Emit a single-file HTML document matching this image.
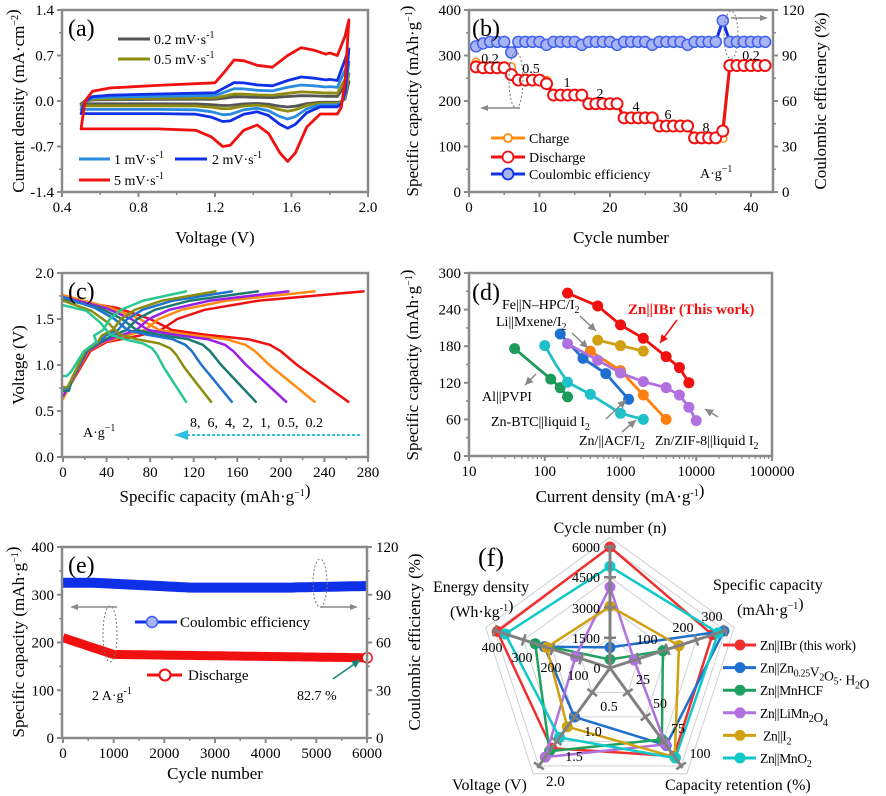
<!DOCTYPE html>
<html><head><meta charset="utf-8"><style>
html,body{margin:0;padding:0;background:#fff}
svg{display:block;font-family:"Liberation Serif",serif}
</style></head><body>
<svg id="s" width="886" height="796" viewBox="0 0 886 796" xmlns="http://www.w3.org/2000/svg"></svg>
<script>
const S=document.getElementById('s');const NS='http://www.w3.org/2000/svg';
function E(t,a,txt){const e=document.createElementNS(NS,t);for(const k in a)e.setAttribute(k,a[k]);if(txt!==undefined)e.innerHTML=txt;S.appendChild(e);return e;}
function PL(pts,c,w,extra){return E('polyline',Object.assign({points:pts.map(p=>p[0].toFixed(1)+','+p[1].toFixed(1)).join(' '),fill:'none',stroke:c,'stroke-width':w||2.5,'stroke-linejoin':'round','stroke-linecap':'round'},extra||{}));}
function T(x,y,s,txt,a){return E('text',Object.assign({x:x,y:y,'font-size':s},a||{}),txt);}
const AX='#8a8a8a';
function box(x0,y0,x1,y1){E('rect',{x:x0,y:y0,width:x1-x0,height:y1-y0,fill:'none',stroke:AX,'stroke-width':2.5});}
function xt(x0,x1,y,vals,minor){vals.forEach((v,i)=>{const x=x0+(x1-x0)*i/(vals.length-1);E('line',{x1:x,y1:y,x2:x,y2:y+5,stroke:AX,'stroke-width':2});T(x,y+20,15,v,{'text-anchor':'middle'});if(minor&&i<vals.length-1){const xm=x+(x1-x0)/(vals.length-1)/2;E('line',{x1:xm,y1:y,x2:xm,y2:y+3,stroke:AX,'stroke-width':1.5});}});}
function yt(x,y0,y1,vals,right){vals.forEach((v,i)=>{const y=y1-(y1-y0)*i/(vals.length-1);const d=right?5:-5;E('line',{x1:x,y1:y,x2:x+d,y2:y,stroke:AX,'stroke-width':2});T(right?x+9:x-8,y+5,15,v,{'text-anchor':right?'start':'end'});if(i<vals.length-1){const ym=y-(y1-y0)/(vals.length-1)/2;E('line',{x1:x,y1:ym,x2:x+d*0.6,y2:ym,stroke:AX,'stroke-width':1.5});}});}
function ytitle(x,y,txt){T(x,y,17,txt,{'text-anchor':'middle',transform:`rotate(-90 ${x} ${y})`});}
const sup=t=>`<tspan dy="-6" font-size="10">${t}</tspan><tspan dy="6"></tspan>`;
const sub=t=>`<tspan dy="4" font-size="10">${t}</tspan><tspan dy="-4"></tspan>`;
function arr(x1,y1,x2,y2,c){E('line',{x1:x1,y1:y1,x2:x2,y2:y2,stroke:c||'#888','stroke-width':1.5});const a=Math.atan2(y2-y1,x2-x1);const p=[[x2,y2],[x2-8*Math.cos(a)+4*Math.sin(a),y2-8*Math.sin(a)-4*Math.cos(a)],[x2-8*Math.cos(a)-4*Math.sin(a),y2-8*Math.sin(a)+4*Math.cos(a)]];E('polygon',{points:p.map(q=>q.join(',')).join(' '),fill:c||'#888'});}

// ===== (a) =====
(function(){
const X=v=>62+(v-0.4)*191.25, Y=i=>101-i*65;
const up=[[0.5,-0.43],[0.52,0],[0.56,0.15],[0.65,0.2],[0.9,0.24],[1.2,0.28],[1.25,0.45],[1.3,0.63],[1.35,0.62],[1.42,0.55],[1.5,0.52],[1.58,0.7],[1.65,0.82],[1.72,0.78],[1.78,0.72],[1.8,0.74],[1.84,0.7],[1.88,1.0],[1.9,1.25]];
const dn=[[1.88,0.3],[1.86,-0.1],[1.84,-0.2],[1.8,-0.2],[1.75,-0.2],[1.68,-0.4],[1.62,-0.8],[1.58,-0.93],[1.54,-0.8],[1.48,-0.5],[1.42,-0.37],[1.35,-0.45],[1.28,-0.68],[1.24,-0.7],[1.18,-0.55],[1.1,-0.45],[0.9,-0.43],[0.5,-0.43]];
const cv=[['#555',0.1,0.3],['#8c8c10',0.17,0.42],['#2a8be0',0.3,0.6],['#1030e8',0.45,0.8],['#f01010',1,1.25]];
cv.forEach(([c,k,s])=>{const pts=up.map(([v,i])=>[X(v),Y(v>=1.9?s:(v>=1.88?s*0.8:i*k))]).concat(dn.map(([v,i])=>[X(v),Y(i*k)]));PL(pts,c,2.8);});
box(62,10,368,192);
xt(62,368,192,['0.4','0.8','1.2','1.6','2.0'],true);
yt(62,10,192,['-1.4','-0.7','0.0','0.7','1.4']);
T(215,243,17,'Voltage (V)',{'text-anchor':'middle'});
ytitle(24,101,'Current density (mA·cm'+sup('−2')+')');
T(68,36,24,'(a)');
[['#555',39,'0.2 mV·s'],['#8c8c10',59,'0.5 mV·s']].forEach(([c,y,t])=>{E('line',{x1:118,y1:y,x2:150,y2:y,stroke:c,'stroke-width':3});T(154,y+5,14,t+sup('-1'));});
E('line',{x1:79,y1:159,x2:110,y2:159,stroke:'#2a8be0','stroke-width':3});T(114,164,14,'1 mV·s'+sup('-1'));
E('line',{x1:175,y1:159,x2:207,y2:159,stroke:'#1030e8','stroke-width':3});T(212,164,14,'2 mV·s'+sup('-1'));
E('line',{x1:79,y1:180,x2:110,y2:180,stroke:'#f01010','stroke-width':3});T(114,185,14,'5 mV·s'+sup('-1'));
})();

// ===== (b) =====
(function(){
const X=c=>469+c*7.05, YL=v=>192-v*0.455, YR=v=>192-v*1.517;
const dis=[];for(let c=1;c<=42;c++){let v;if(c<=5)v=275-(c==1?0:2);else if(c==6)v=258;else if(c<=10)v=246;else if(c==11)v=238;else if(c<=16)v=213;else if(c<=21)v=194;else if(c<=26)v=163;else if(c<=31)v=145;else if(c<=35)v=119;else if(c==36)v=134;else v=278;dis.push([c,v]);}
const ch=dis.map(([c,v])=>[c,c==36?118:(c==1?285:(c==6?275:(c==11?245:v+2)))]);
const ce=[];for(let c=1;c<=42;c++){let v=99;if(c==1)v=96;if(c==2)v=98;if(c==6)v=92;if([11,16,21,26,31].includes(c))v=97;if(c==36)v=113;ce.push([c,v]);}
PL(ch.map(([c,v])=>[X(c),YL(v)]),'#ff8c10',2.5);
ch.forEach(([c,v])=>E('circle',{cx:X(c),cy:YL(v),r:4,fill:'#fff',stroke:'#ff8c10','stroke-width':1.5}));
PL(dis.map(([c,v])=>[X(c),YL(v)]),'#f01010',3);
dis.forEach(([c,v])=>E('circle',{cx:X(c),cy:YL(v),r:5.5,fill:'#fff',stroke:'#f01010','stroke-width':2}));
PL(ce.map(([c,v])=>[X(c),YR(v)]),'#1030e8',3);
ce.forEach(([c,v])=>E('circle',{cx:X(c),cy:YR(v),r:5.5,fill:'#a8b4f4',stroke:'#4060f0','stroke-width':1.5}));
box(469,10,773,192);
xt(469,469+7.05*40,192,['0','10','20','30','40'],true);
yt(469,10,192,['0','100','200','300','400']);
yt(773,10,192,['0','30','60','90','120'],true);
T(621,243,17,'Cycle number',{'text-anchor':'middle'});
ytitle(418,101,'Specific capacity (mAh·g'+sup('−1')+')');
ytitle(826,101,'Coulombic efficiency (%)');
T(472,36,24,'(b)');
[['0.2',490,63],['0.5',531,73],['1',567,87],['2',600,98],['4',636,111],['6',668,119],['8',706,132],['0.2',751,60]].forEach(([t,x,y])=>T(x,y,14,t,{'text-anchor':'middle'}));
T(700,178,14,'A·g'+sup('−1'));
E('ellipse',{cx:516,cy:80,rx:7,ry:28,fill:'none',stroke:'#777','stroke-width':1,'stroke-dasharray':'2,2'});
E('line',{x1:520,y1:108,x2:486,y2:108,stroke:'#888','stroke-width':1.5});E('polygon',{points:'480,108 488,105 488,111',fill:'#888'});
E('ellipse',{cx:731,cy:35,rx:7,ry:24,fill:'none',stroke:'#777','stroke-width':1,'stroke-dasharray':'2,2'});
E('line',{x1:731,y1:18,x2:762,y2:18,stroke:'#888','stroke-width':1.5});E('polygon',{points:'768,18 760,15 760,21',fill:'#888'});
[['#ff8c10','#fff',138,'Charge',4],['#f01010','#fff',157,'Discharge',5.5],['#1030e8','#a8b4f4',174,'Coulombic efficiency',5.5]].forEach(([c,f,y,t,r])=>{E('line',{x1:491,y1:y,x2:525,y2:y,stroke:c,'stroke-width':3});E('circle',{cx:508,cy:y,r:r,fill:f,stroke:c,'stroke-width':1.8});T(529,y+5,14,t);});
})();

// ===== (c) =====
(function(){
const X=c=>63+c*1.089, Y=v=>457-v*92;
const dshape=[[0,1.72],[50,1.62],[80,1.5],[100,1.38],[130,1.33],[170,1.28],[190,1.22],[200,1.15],[215,1.0],[235,0.83],[262,0.6]];
const cshape=[[0,0.65],[10,0.85],[25,1.15],[40,1.25],[70,1.32],[90,1.38],[105,1.5],[130,1.6],[180,1.7],[276,1.8]];
const ser=[['#f01010',262,276,1.72,0.65],['#ff8c10',231,231,1.76,0.63],['#9a20e8',205,207,1.74,0.66],['#1a7a70',177,179,1.72,0.72],['#1e73d0',155,155,1.74,0.75],['#8c8c10',136,140,1.7,0.76],['#28c890',113,113,1.65,0.88]];
ser.forEach(([c,qd,qc,v0,c0])=>{
 const d=dshape.map(([x,v],i)=>[X(x*qd/262),Y(i==0?v0:(qd<150?v-0.05*(x/262)*(1-x/262)*4:v))]);
 PL(d,c,2.5);
 const cc=cshape.map(([x,v],i)=>{let xx=i<=3?x*(0.6+0.4*qc/276):x*qc/276;let vv=i==0?c0:(i==1?Math.max(v,c0+0.05):v);return [X(xx),Y(vv)];});
 if(c0>0.7)cc.splice(1,0,[X(qc*0.03),Y(c0)]);
 PL(cc,c,2.5);
});
box(62,273,368,457);
xt(63,368,457,['0','40','80','120','160','200','240','280'],true);
yt(62,273,457,['0.0','0.5','1.0','1.5','2.0']);
T(215,502,17,'Specific capacity (mAh·g'+sup('−1')+')',{'text-anchor':'middle'});
ytitle(24,365,'Voltage (V)');
T(68,299,24,'(c)');
T(190,427,14,'8,&#160;&#160;6,&#160;&#160;4,&#160;&#160;2,&#160;&#160;1,&#160;&#160;0.5,&#160;&#160;0.2');
T(83,437,14,'A·g'+sup('−1'));
E('line',{x1:360,y1:435,x2:184,y2:435,stroke:'#30c0e0','stroke-width':2,'stroke-dasharray':'3,2'});
E('polygon',{points:'174,435 188,430 188,440',fill:'#30c0e0'});
})();

// ===== (d) =====
(function(){
const X=x=>469+Math.log10(x/10)*75.75, Y=y=>456-y*0.61;
const ser=[['#1e9a5a',[[40,176],[120,126],[160,112],[200,97]]],['#20c0c8',[[100,181],[140,150],[200,121],[400,101],[1000,70],[2000,60]]],['#1e6fd0',[[160,200],[320,160],[640,135],[1280,93]]],['#ff8010',[[400,172],[1000,140],[2000,100],[4000,60]]],['#b070e0',[[200,184],[500,157],[1000,136],[2000,122],[4000,112],[6000,100],[8000,80],[10000,58]]],['#d0a010',[[500,190],[1000,181],[2000,172]]],['#f01010',[[200,267],[500,246],[1000,215],[2000,193],[4000,163],[6000,145],[8000,120]]]];
ser.forEach(([c,p])=>{PL(p.map(([x,y])=>[X(x),Y(y)]),c,2.8);p.forEach(([x,y])=>{if(c=='#20c0c8'&&x==140)return;E('circle',{cx:X(x),cy:Y(y),r:5.5,fill:c});});});
box(469,273,772,456);
for(let d=1;d<=4;d++){for(let m=2;m<=9;m++){const x=469+(d-1+Math.log10(m))*75.75;E('line',{x1:x,y1:456,x2:x,y2:459,stroke:AX,'stroke-width':1.2});}}
xt(469,772,456,['10','100','1000','10000','100000']);
yt(469,273,456,['0','60','120','180','240','300']);
T(620,502,17,'Current density (mA·g'+sup('-1')+')',{'text-anchor':'middle'});
ytitle(418,365,'Specific capacity (mAh·g'+sup('−1')+')');
T(472,300,24,'(d)');
T(502,309,14,'Fe||N–HPC/I'+sub('2'));
T(496,326,14,'Li||Mxene/I'+sub('2'));
T(628,314,15,'Zn||IBr (This work)',{fill:'#f01010','font-weight':'bold'});
T(482,401,14,'Al||PVPI');
T(491,426,14,'Zn-BTC||liquid I'+sub('2'));
T(579,445,14,'Zn/||ACF/I'+sub('2'));
T(655,445,14,'Zn/ZIF-8||liquid I'+sub('2'));
arr(580,316,596,331);arr(572,333,588,348);arr(677,320,660,343,'#f01010');arr(536,374,525,385);arr(606,419,626,400);arr(622,432,636,420);arr(718,417,705,409);
})();

// ===== (e) =====
(function(){
const X=c=>63+c*0.0507, YL=v=>738-v*0.4775, YR=v=>738-v*1.592;
const ce=[];for(let c=0;c<=6000;c+=100){let v=c<600?97.5:(c<2500?97.5-(c-600)/1900*3:(c<4500?94.5:94.5+(c-4500)/1500*1));ce.push([c,v]);}
PL(ce.map(([c,v])=>[X(c),YR(v)]),'#1030e8',10,{'stroke-linecap':'butt'});
const d=[];for(let c=0;c<=6000;c+=100){let v=c<1000?210-35*(c/1000):(175-7*(c-1000)/5000);d.push([c,v]);}
PL(d.map(([c,v])=>[X(c),YL(v)]),'#f01010',9,{'stroke-linecap':'butt'});
E('circle',{cx:X(6000),cy:YL(168),r:5,fill:'#fff',stroke:'#f01010','stroke-width':1.5});
box(62,547,367,738);
xt(63,367,738,['0','1000','2000','3000','4000','5000','6000'],true);
yt(62,547,738,['0','100','200','300','400']);
yt(367,547,738,['0','30','60','90','120'],true);
T(215,779,17,'Cycle number',{'text-anchor':'middle'});
ytitle(24,642,'Specific capacity (mAh·g'+sup('−1')+')');
ytitle(420,642,'Coulombic efficiency (%)');
T(68,573,24,'(e)');
E('line',{x1:135,y1:622,x2:177,y2:622,stroke:'#1030e8','stroke-width':3});E('circle',{cx:152,cy:622,r:5.5,fill:'#a8b4f4',stroke:'#4060f0','stroke-width':1.5});T(180,627,15,'Coulombic efficiency');
E('line',{x1:147,y1:675,x2:182,y2:675,stroke:'#f01010','stroke-width':3});E('circle',{cx:165,cy:675,r:5.5,fill:'#fff',stroke:'#f01010','stroke-width':2});T(188,680,15,'Discharge');
T(92,700,14,'2 A·g'+sup('-1'));T(297,700,14,'82.7 %');
arr(333,679,360,660,'#108878');
E('ellipse',{cx:110,cy:634,rx:7,ry:28,fill:'none',stroke:'#777','stroke-width':1,'stroke-dasharray':'2,2'});
E('line',{x1:117,y1:607,x2:76,y2:607,stroke:'#888','stroke-width':1.5});E('polygon',{points:'70,607 78,604 78,610',fill:'#888'});
E('ellipse',{cx:320,cy:583,rx:7,ry:24,fill:'none',stroke:'#777','stroke-width':1,'stroke-dasharray':'2,2'});
E('line',{x1:320,y1:607,x2:352,y2:607,stroke:'#888','stroke-width':1.5});E('polygon',{points:'358,607 350,604 350,610',fill:'#888'});
})();

// ===== (f) =====
(function(){
const cx=610,cy=668,R=121;const ang=[-90,-18,54,126,198].map(a=>a*Math.PI/180);
const P=(i,f)=>[cx+R*f*Math.cos(ang[i]),cy+R*f*Math.sin(ang[i])];
[0.25,0.5,0.75,1,1.08].forEach(f=>{const p=[0,1,2,3,4,0].map(i=>P(i,f));PL(p,'#d0d0d0',1);});
const ser=[['#f03030',[1,0.89,0.9,0.82,0.98]],['#1e6fd0',[0.17,0.99,0.79,0.5,0.57]],['#20a060',[0.07,0.46,0.73,0.85,0.65]],['#b070e0',[0.67,0.21,0.78,0.91,0.3]],['#d0a010',[0.51,0.6,0.91,0.6,0.55]],['#10c8c8',[0.84,0.94,0.92,0.71,0.91]]];
ser.forEach(([c,v])=>{const p=[0,1,2,3,4,0].map(i=>P(i,v[i]));PL(p,c,2.5);p.slice(0,5).forEach(q=>E('circle',{cx:q[0],cy:q[1],r:5.5,fill:c}));});
for(let i=0;i<5;i++){const e=P(i,1.02);E('line',{x1:cx,y1:cy,x2:e[0],y2:e[1],stroke:'#808080','stroke-width':3});
 for(const f of [0.25,0.5,0.75,1]){const q=P(i,f);const a=ang[i]+Math.PI/2;E('line',{x1:q[0]-6*Math.cos(a),y1:q[1]-6*Math.sin(a),x2:q[0]+6*Math.cos(a),y2:q[1]+6*Math.sin(a),stroke:'#808080','stroke-width':2.5});}}
T(478,566,26,'(f)');
T(610,533,16,'Cycle number (n)',{'text-anchor':'middle'});
T(713,590,16,'Specific capacity');T(737,615,16,'(mAh·g'+sup('−1')+')');
T(433,592,16,'Energy density');T(450,617,16,'(Wh·kg'+sup('-1')+')');
T(452,790,16,'Voltage (V)');T(546,786,15,'2.0');
T(665,790,16,'Capacity retention (%)');
const L=[['6000',586,552],['4500',586,582],['3000',586,613],['1500',586,643],['0',597,673],['100',647,644],['200',683,632],['300',712,621],['25',643,684],['50',660,708],['75',678,733],['100',700,758],['0.5',609,711],['1.0',593,736],['1.5',574,761],['100',578,680],['200',551,672],['300',522,662],['400',492,652]];
L.forEach(([t,x,y])=>T(x,y,14,t,{'text-anchor':'middle'}));
const lg=[['#f03030','Zn||IBr (this work)'],['#1e6fd0','Zn||Zn'+sub('0.25')+'V'+sub('2')+'O'+sub('5')+'· H'+sub('2')+'O'],['#20a060','Zn||MnHCF'],['#b070e0','Zn||LiMn'+sub('2')+'O'+sub('4')],['#d0a010','&#160;Zn||I'+sub('2')],['#10c8c8','Zn||MnO'+sub('2')]];
lg.forEach(([c,t],i)=>{const y=645+i*22.6;E('line',{x1:723,y1:y,x2:756,y2:y,stroke:c,'stroke-width':3});E('circle',{cx:740,cy:y,r:5.5,fill:c});T(760,y+5,13.5,t,{'letter-spacing':'-0.3'});});
})();
</script>
</body></html>
